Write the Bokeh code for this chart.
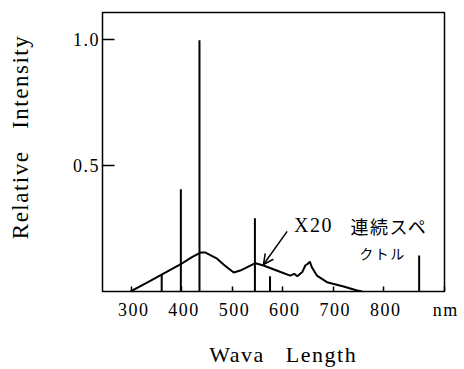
from bokeh.plotting import figure
from bokeh.models import Range1d, FixedTicker, Label, Arrow, OpenHead, PrintfTickFormatter
from bokeh.embed import file_html
from bokeh.resources import INLINE

# Continuous spectrum (X20)
curve_wl = [298, 330, 359, 397, 420, 437, 447, 470, 485, 503, 516, 546, 562, 596,
            615, 623, 629, 639, 645, 650, 654, 658, 668, 688, 721, 748, 758]
curve_int = [0.0, 0.034, 0.066, 0.107, 0.136, 0.154, 0.154, 0.130, 0.103, 0.075,
             0.083, 0.112, 0.103, 0.077, 0.063, 0.070, 0.060, 0.077, 0.103, 0.110,
             0.118, 0.096, 0.063, 0.037, 0.020, 0.004, 0.0]

# Line spectrum
line_wl = [360, 398, 435, 545, 575, 871]
line_int = [0.067, 0.405, 0.995, 0.29, 0.06, 0.143]

x_ticks = [300, 400, 500, 600, 700, 800]
x_unit_pos = 921
y_ticks = [0.5, 1.0]

FONT = "Liberation Serif"

p = figure(width=464, height=369, output_backend="svg", toolbar_location=None,
           x_range=Range1d(242.5, 921.3), y_range=Range1d(0, 1.105),
           min_border_left=102, min_border_right=20, min_border_top=12,
           min_border_bottom=78)
p.styles = {"letter-spacing": "1.5px"}
p.background_fill_color = "white"
p.border_fill_color = "white"
p.outline_line_color = "black"
p.outline_line_width = 1.5
p.xgrid.visible = False
p.ygrid.visible = False

xa = p.xaxis[0]
xa.ticker = FixedTicker(ticks=x_ticks + [x_unit_pos])
xa.major_label_overrides = {x_unit_pos: "nm"}
xa.major_tick_in = 5
xa.major_tick_out = 0
xa.minor_tick_line_color = None
xa.major_tick_line_width = 1.5
xa.axis_line_color = "black"
xa.major_label_text_font = FONT
xa.major_label_text_font_size = "18px"
xa.major_label_text_color = "black"
xa.major_label_standoff = 8
xa.axis_label = "Wava \u00a0 Length"
xa.axis_label_text_font = FONT
xa.axis_label_text_font_size = "22px"
xa.axis_label_text_font_style = "normal"
xa.axis_label_text_color = "black"
xa.axis_label_standoff = 19

ya = p.yaxis[0]
ya.ticker = FixedTicker(ticks=y_ticks)
ya.formatter = PrintfTickFormatter(format="%.1f")
ya.major_tick_in = 12
ya.major_tick_out = 0
ya.minor_tick_line_color = None
ya.major_tick_line_width = 1.5
ya.axis_line_color = "black"
ya.major_label_text_font = FONT
ya.major_label_text_font_size = "18px"
ya.major_label_text_color = "black"
ya.major_label_standoff = 7
ya.axis_label = "Relative \u00a0 Intensity"
ya.axis_label_text_font = FONT
ya.axis_label_text_font_size = "23px"
ya.axis_label_text_font_style = "normal"
ya.axis_label_text_color = "black"
ya.axis_label_standoff = 37

p.line(curve_wl, curve_int, line_color="black", line_width=2)
p.segment(x0=line_wl, y0=0, x1=line_wl, y1=line_int, line_color="black", line_width=2)

p.add_layout(Label(x=657, y=0.262, text="X20", text_align="center", text_baseline="middle",
                   text_font=FONT, text_font_size="20px", text_color="black"))
p.add_layout(Label(x=806, y=0.258, text="連続スペ", text_align="center", text_baseline="middle",
                   text_font="Noto Sans CJK JP", text_font_size="18px", text_color="black"))
p.add_layout(Label(x=794, y=0.151, text="クトル", text_align="center", text_baseline="middle",
                   text_font="Noto Sans CJK JP", text_font_size="14px", text_color="black"))
p.add_layout(Arrow(end=OpenHead(size=10, line_width=1.5, line_color="black"),
                   x_start=609, y_start=0.238, x_end=562, y_end=0.107,
                   line_width=1.5, line_color="black"))

open("out.html", "w").write(file_html(p, INLINE))
